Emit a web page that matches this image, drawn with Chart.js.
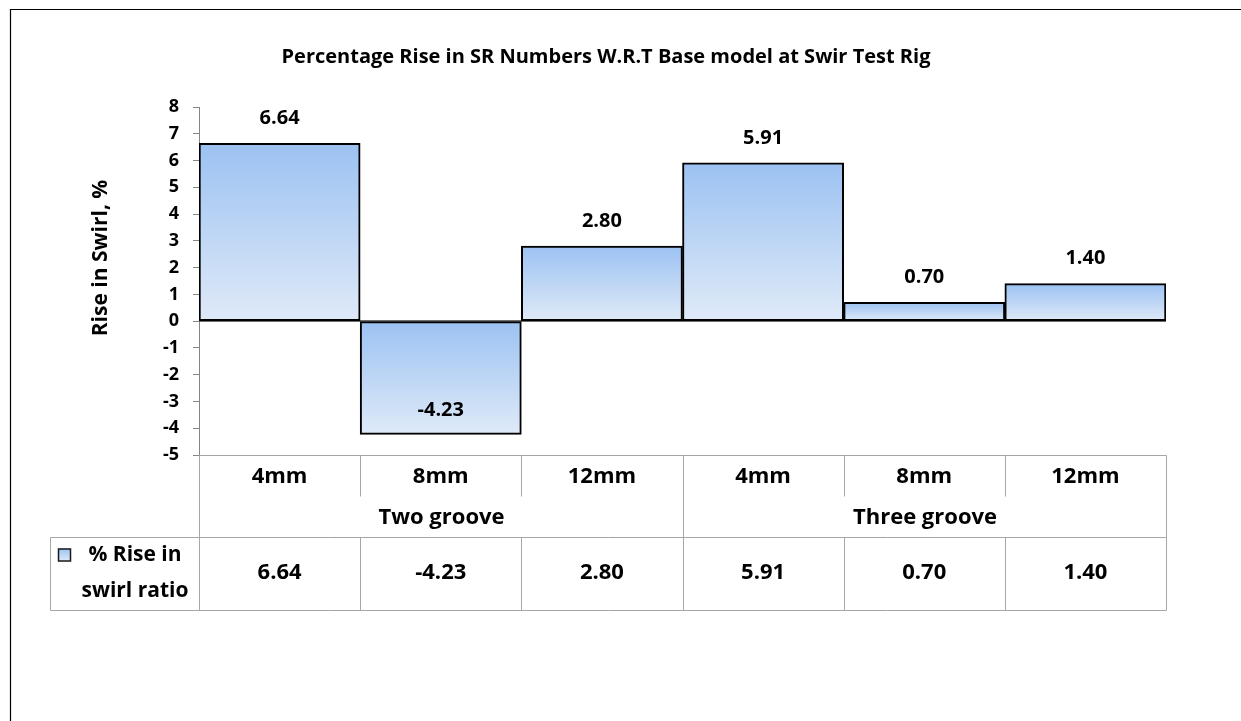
<!DOCTYPE html>
<html>
<head>
<meta charset="utf-8">
<script src="https://cdn.jsdelivr.net/npm/chart.js@4.4.1/dist/chart.umd.min.js"></script>
<style>
  html, body { margin: 0; padding: 0; background: #ffffff; }
  #wrap { position: relative; width: 1241px; height: 721px; }
</style>
</head>
<body>
<div id="wrap"><canvas id="c" width="1241" height="721"></canvas></div>
<script>
// ---- data ----
const subLabels = ['4mm', '8mm', '12mm', '4mm', '8mm', '12mm'];
const groupLabels = ['Two groove', 'Three groove'];
const groupSizes = [3, 3];
const riseValues = [6.64, -4.23, 2.80, 5.91, 0.70, 1.40];
const seriesName = ['% Rise in', 'swirl ratio'];
const yTicks = [-5, -4, -3, -2, -1, 0, 1, 2, 3, 4, 5, 6, 7, 8];
const chartTitle = 'Percentage Rise in SR Numbers W.R.T Base model at Swir Test Rig';
const yTitle = 'Rise in Swirl, %';

// ---- style ----
const FONT = '"Open Sans", Lato, sans-serif';
const GRID = '#a6a6a6';
const GRAD_TOP = '#9cc2f2';
const GRAD_BOT = '#dfeaf8';

function barGradient(ctx, top, bottom) {
  const g = ctx.createLinearGradient(0, top, 0, bottom);
  g.addColorStop(0, GRAD_TOP);
  g.addColorStop(1, GRAD_BOT);
  return g;
}

const decoPlugin = {
  id: 'deco',
  beforeDraw(chart) {
    const ctx = chart.ctx;
    ctx.save();
    ctx.strokeStyle = '#000';
    ctx.lineWidth = 1.2;
    ctx.beginPath();
    ctx.moveTo(10.5, 721);
    ctx.lineTo(10.5, 9.5);
    ctx.lineTo(1241, 9.5);
    ctx.stroke();
    ctx.fillStyle = '#000';
    ctx.font = 'bold 20px ' + FONT;
    ctx.textAlign = 'center';
    ctx.textBaseline = 'middle';
    ctx.fillText(chartTitle, 606, 57);
    ctx.translate(101, 258);
    ctx.rotate(-Math.PI / 2);
    ctx.font = 'bold 21px ' + FONT;
    ctx.fillText(yTitle, 0, 0);
    ctx.restore();
  },
  beforeDatasetsDraw(chart) {
    const ctx = chart.ctx;
    const ys = chart.scales.y;
    const a = chart.chartArea;
    const y0 = Math.round(ys.getPixelForValue(0));
    ctx.save();
    ctx.strokeStyle = '#6e6e6e';
    ctx.lineWidth = 2;
    ctx.beginPath();
    ctx.moveTo(a.left, y0);
    ctx.lineTo(a.right, y0);
    ctx.stroke();
    ctx.restore();
  },
  afterDatasetsDraw(chart) {
    const ctx = chart.ctx;
    const meta = chart.getDatasetMeta(0);
    const data = chart.data.datasets[0].data;
    ctx.save();
    ctx.fillStyle = '#000';
    ctx.font = 'bold 20px ' + FONT;
    ctx.textAlign = 'center';
    ctx.textBaseline = 'middle';
    meta.data.forEach((el, i) => {
      const v = data[i];
      const y = v >= 0 ? el.y - 25 : el.y - 24;
      ctx.fillText(v.toFixed(2), el.x, y);
    });
    ctx.restore();
  },
  afterDraw(chart) {
    const ctx = chart.ctx;
    const xs = chart.scales.x;
    const a = chart.chartArea;
    const n = subLabels.length;
    const w = (a.right - a.left) / n;
    const edge = i => Math.round(a.left + i * w) + 0.5;
    const top = Math.round(a.bottom) + 0.5;
    const r1 = top + 41;
    const r2 = top + 82;
    const r3 = top + 155;
    const legL = 50.5;
    ctx.save();
    ctx.strokeStyle = GRID;
    ctx.lineWidth = 1;
    ctx.beginPath();
    ctx.moveTo(edge(0), top); ctx.lineTo(edge(n), top);
    ctx.moveTo(legL, r2); ctx.lineTo(edge(n), r2);
    ctx.moveTo(legL, r3); ctx.lineTo(edge(n), r3);
    ctx.moveTo(legL, r2); ctx.lineTo(legL, r3);
    let acc = 0;
    const groupEdges = [0];
    groupSizes.forEach(s => { acc += s; groupEdges.push(acc); });
    for (let i = 0; i <= n; i++) {
      if (groupEdges.includes(i)) {
        ctx.moveTo(edge(i), top); ctx.lineTo(edge(i), r3);
      } else {
        ctx.moveTo(edge(i), top); ctx.lineTo(edge(i), r1);
        ctx.moveTo(edge(i), r2); ctx.lineTo(edge(i), r3);
      }
    }
    ctx.stroke();

    ctx.fillStyle = '#000';
    ctx.font = 'bold 22px ' + FONT;
    ctx.textAlign = 'center';
    ctx.textBaseline = 'middle';
    for (let i = 0; i < n; i++) {
      const cx = xs.getPixelForValue(i);
      ctx.fillText(subLabels[i], cx, top + 21);
      ctx.fillText(riseValues[i].toFixed(2), cx, top + 117);
    }
    let start = 0;
    groupLabels.forEach((g, gi) => {
      const cx = (edge(start) + edge(start + groupSizes[gi])) / 2;
      ctx.fillText(g, cx, top + 62);
      start += groupSizes[gi];
    });
    const sx = 58, sy = top + 93, ss = 13;
    ctx.fillStyle = barGradient(ctx, sy, sy + ss);
    ctx.fillRect(sx, sy, ss, ss);
    ctx.strokeStyle = '#1a1a1a';
    ctx.lineWidth = 1.5;
    ctx.strokeRect(sx + 0.5, sy + 0.5, ss - 1, ss - 1);
    ctx.fillStyle = '#000';
    ctx.font = 'bold 21px ' + FONT;
    ctx.textAlign = 'center';
    ctx.fillText(seriesName[0], 135, top + 100);
    ctx.fillText(seriesName[1], 135, top + 136);
    ctx.restore();
  }
};

new Chart(document.getElementById('c'), {
  type: 'bar',
  data: {
    labels: subLabels,
    datasets: [{
      label: seriesName.join(' '),
      data: riseValues,
      backgroundColor: (c) => {
        const chart = c.chart;
        if (!chart.chartArea || c.dataIndex === undefined) return GRAD_TOP;
        const ys = chart.scales.y;
        const v = riseValues[c.dataIndex];
        const t = ys.getPixelForValue(Math.max(v, 0));
        const b = ys.getPixelForValue(Math.min(v, 0));
        return barGradient(chart.ctx, t, b);
      },
      borderColor: '#000',
      borderWidth: 2,
      borderSkipped: false,
      barPercentage: 1,
      categoryPercentage: 1
    }]
  },
  options: {
    responsive: false,
    animation: false,
    layout: { padding: { left: 0, top: 107, right: 75, bottom: 266 } },
    plugins: {
      legend: { display: false },
      title: { display: false },
      tooltip: { enabled: false }
    },
    scales: {
      x: { display: false },
      y: {
        min: -5, max: 8,
        afterFit: s => { s.width = 199; },
        afterBuildTicks: s => { s.ticks = yTicks.map(v => ({ value: v })); },
        ticks: {
          color: '#000',
          font: { family: FONT, size: 18, weight: 'bold' },
          padding: 14,
          callback: v => String(v)
        },
        grid: { drawOnChartArea: false, drawTicks: true, tickLength: 6, color: '#868686' },
        border: { display: true, color: '#868686', width: 1 }
      }
    }
  },
  plugins: [decoPlugin]
});
</script>
</body>
</html>
